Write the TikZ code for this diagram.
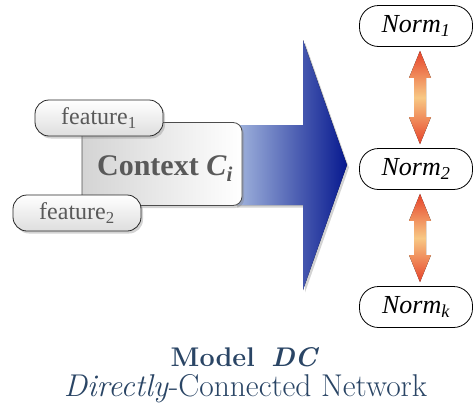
\documentclass[tikz,border=0pt]{standalone}
\usepackage{fontspec}
\newfontfamily\timesf{Liberation Serif}
\usetikzlibrary{shadows,calc}
\definecolor{capblue}{HTML}{2A4565}
\definecolor{flowlight}{HTML}{A3B6DE}
\definecolor{flowdark}{HTML}{07198F}
\definecolor{linkend}{HTML}{E6432A}
\definecolor{linkmid}{HTML}{F8C884}
\tikzset{
  softshadow/.style={drop shadow={opacity=0.35, shadow xshift=2pt, shadow yshift=-2.5pt}},
  featbox/.style={draw=black!85, line width=0.8pt, rounded corners=14pt,
    top color=white, bottom color=black!13, minimum width=128pt, minimum height=36pt,
    inner sep=0pt, font=\timesf\fontsize{24}{24}\selectfont, text=black!65, softshadow},
  ctxbox/.style={draw=black!70, line width=0.8pt, rounded corners=9pt,
    left color=black!17, right color=white, minimum width=160pt, minimum height=83pt,
    inner sep=0pt, softshadow},
  normbox/.style={draw=black, line width=0.8pt, rounded corners=19pt, fill=white,
    minimum width=113pt, minimum height=41pt, inner sep=0pt,
    font=\timesf\itshape\fontsize{26}{26}\selectfont},
  linkarrow/.style={top color=linkend, bottom color=linkend, middle color=linkmid},
  caption/.style={text=capblue, anchor=base, inner sep=0pt},
}
\begin{document}
\begin{tikzpicture}[x=1pt,y=-1pt]
\useasboundingbox (0,0) rectangle (473,415);

% broad flow arrow from the context towards the norms
\fill[left color=flowlight, right color=flowdark, softshadow]
  (235,125) -- (303,125) -- (303,40) -- (347,165) -- (303,290) -- (303,205) -- (235,205) -- cycle;

% context and its features
\node[ctxbox] (ctx) at (162,164) {};
\node[font=\timesf\bfseries\fontsize{30}{30}\selectfont, text=black!65, anchor=base] (ctxlabel) at (165,175)
  {Context \textit{C}\textsubscript{\textit{i}}};
\node[featbox] (f1) at (99,118) {feature\textsubscript{1}};
\node[featbox] (f2) at (77,213) {feature\textsubscript{2}};

% norms
\node[normbox] (n1) at (416,26) {Norm\textsubscript{1}};
\node[normbox] (n2) at (416,169) {Norm\textsubscript{2}};
\node[normbox] (nk) at (416,307) {Norm\textsubscript{k}};

% double-headed links between neighbouring norms
\foreach \a/\b in {n1/n2, n2/nk}{
  \fill[linkarrow] let \p1=(\a.south), \p2=(\b.north) in
    ({\x1+4pt},{\y1-4pt}) -- ({\x1+15pt},{\y1-31pt}) -- ({\x1+10pt},{\y1-31pt})
    -- ({\x1+10pt},{\y2+31pt}) -- ({\x1+15pt},{\y2+31pt}) -- ({\x1+4pt},{\y2+4pt})
    -- ({\x1-7pt},{\y2+31pt}) -- ({\x1-2pt},{\y2+31pt})
    -- ({\x1-2pt},{\y1-31pt}) -- ({\x1-7pt},{\y1-31pt}) -- cycle;
}

% caption
\node[caption, font=\fontsize{27}{27}\selectfont] (title) at (245,366)
  {\textbf{Model}\ \ \textbf{\textit{DC}}};
\node[caption, font=\fontsize{31.5}{31.5}\selectfont] (subtitle) at (245.5,396)
  {\textit{Directly}-Connected Network};
\end{tikzpicture}
\end{document}
